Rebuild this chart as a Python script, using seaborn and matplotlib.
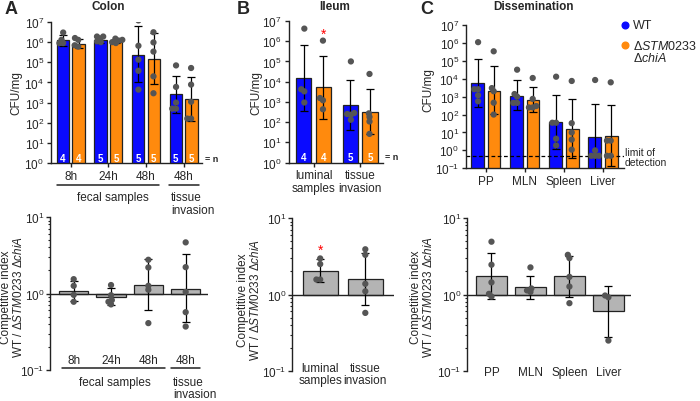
import numpy as np
import pandas as pd
import seaborn as sns
import matplotlib.pyplot as plt
import matplotlib.patheffects as pe
from matplotlib.lines import Line2D
from matplotlib.ticker import LogLocator, NullLocator

# ---- panel A (colon), CFU/mg
colon_groups = ['8h', '24h', '48h', '48h tissue']
colon_ticks = ['8h', '24h', '48h', '48h']
colon_wt = [1.28e6, 1.28e6, 2.4e5, 2.6e3]
colon_mut = [8.1e5, 1.05e6, 1.4e5, 1.5e3]
colon_wt_lo = [6.7e5, 8.7e5, 1.0e4, 3.0e2]
colon_wt_hi = [2.2e6, 2.0e6, 6.3e6, 2.1e4]
colon_mut_lo = [4.9e5, 8.7e5, 8.0e3, 1.26e2]
colon_mut_hi = [1.43e6, 1.43e6, 2.9e6, 1.9e4]
colon_wt_pts = [[3.0e6, 1.3e6, 9e5, 9e5], [1.9e6, 1.9e6, 1.5e6, 1.1e6, 1.0e6],
                [1.2e7, 6.6e5, 1.35e5, 3.8e4, 4.4e3], [7e4, 6e3, 1e3, 5e2, 5e2]]
colon_mut_pts = [[1.6e6, 1.3e6, 7e5, 6e5], [1.5e6, 1.3e6, 1.2e6, 1.0e6, 9e5],
                 [3.1e6, 9.7e5, 3.4e5, 2.0e4, 2.9e3], [5.2e4, 7.8e3, 1.1e3, 1.6e2, 1.6e2]]
colon_n = [4, 5, 5, 5]

# ---- panel B (ileum)
ileum_groups = ['luminal\nsamples', 'tissue\ninvasion']
ileum_wt = [1.45e4, 6.9e2]
ileum_mut = [5.2e3, 3.0e2]
ileum_wt_lo = [3.4e2, 40]
ileum_wt_hi = [6.8e5, 1.15e4]
ileum_mut_lo = [1.5e2, 25]
ileum_mut_hi = [1.9e5, 4.2e3]
ileum_wt_pts = [[4.2e6, 4.2e3, 3.3e3, 9.3e2], [1e5, 2.8e2, 2.5e2, 2.3e2, 1.3e2]]
ileum_mut_pts = [[1.07e6, 1.55e3, 1.2e3, 4.3e2], [2.4e4, 2.7e2, 1.8e2, 1.07e2, 26]]
ileum_n = [4, 5]

# ---- panel C (dissemination)
organ_groups = ['PP', 'MLN', 'Spleen', 'Liver']
organ_wt = [5.5e3, 1.15e3, 37, 5.9]
organ_mut = [2.2e3, 6.5e2, 15, 6.3]
organ_wt_lo = [2.6e2, 1.7e2, 1.2, 0.05]
organ_wt_hi = [1.2e5, 8.1e3, 1.2e3, 3.9e2]
organ_mut_lo = [1.07e2, 1.4e2, 0.38, 0.135]
organ_mut_hi = [5.1e4, 3.5e3, 7.4e2, 3.6e2]
organ_wt_pts = [[1.1e6, 2.6e3, 2.6e3, 1.2e3, 5.5e2], [3.2e4, 1.4e3, 1.0e3, 4.5e2, 4.5e2],
                [1.3e4, 35, 35, 4.5, 1.9], [8.5e3, 1.0, 0.5, 0.5, 0.5]]
organ_mut_pts = [[3.4e5, 3.0e3, 2.0e3, 4.6e2, 1.0e2], [1.1e4, 7.5e2, 3e2, 2.5e2, 2.5e2],
                 [7.5e3, 33, 10, 4, 1.1], [6.3e3, 3.5, 3.5, 0.5, 0.5]]
detection_limit = 0.5

# ---- competitive index (bottom row)
ci_colon = [1.09, 0.91, 1.29, 1.16]
ci_colon_lo = [0.80, 0.71, 0.60, 0.43]
ci_colon_hi = [1.47, 1.17, 2.8, 3.24]
ci_colon_pts = [[1.54, 1.26, 0.96, 0.78], [1.29, 0.95, 0.82, 0.78, 0.72],
                [2.76, 2.19, 1.26, 1.12, 0.41], [4.66, 2.21, 1.05, 0.57, 0.37]]
ci_ileum = [2.04, 1.59]
ci_ileum_lo = [1.45, 0.74]
ci_ileum_hi = [2.87, 3.5]
ci_ileum_pts = [[2.96, 2.5, 1.57, 1.57], [3.9, 3.3, 1.38, 1.1, 0.575]]
ci_organ = [1.74, 1.24, 1.72, 0.60]
ci_organ_lo = [0.88, 0.87, 0.94, 0.28]
ci_organ_hi = [3.48, 1.76, 3.21, 1.31]
ci_organ_pts = [[4.9, 2.45, 1.44, 1.02, 0.94], [2.26, 1.2, 1.13, 1.08],
                [3.3, 2.99, 1.7, 1.27, 0.77], [0.97, 0.92, 0.25]]

BLUE = '#0a0aff'
ORANGE = '#ff8a0d'
DOT = '#555555'
GREY = '#b4b4b4'
INK = '#222222'
FS = 8.5

sns.set_style('ticks')
plt.rcParams['font.family'] = ['Liberation Sans', 'DejaVu Sans']
plt.rcParams['mathtext.fontset'] = 'custom'
plt.rcParams['mathtext.rm'] = 'Liberation Sans'
plt.rcParams['mathtext.it'] = 'Liberation Sans:italic'
plt.rcParams['axes.edgecolor'] = INK
plt.rcParams['axes.linewidth'] = 1.0

W, H = 700, 402
fig = plt.figure(figsize=(7, 4.02), dpi=100)

# the swarm is laid out with a small marker; a stroke drawn at render time makes the
# dots look bigger so they overlap a little, like the original scatter
SWARM = dict(size=2.6, linewidth=0, zorder=4,
             path_effects=[pe.Stroke(linewidth=1.9, foreground=DOT), pe.Normal()])


def box(l, t, r, b):
    return fig.add_axes([l / W, 1 - b / H, (r - l) / W, (b - t) / H])


def ftext(x, y, s, **kw):
    fig.text(x / W, 1 - y / H, s, **kw)


def long_pts(groups, wt_pts, mut_pts):
    rows = []
    for g, a, b in zip(groups, wt_pts, mut_pts):
        rows += [(g, 'WT', v) for v in a]
        rows += [(g, 'mut', v) for v in b]
    return pd.DataFrame(rows, columns=['group', 'strain', 'cfu'])


def cfu_panel(ax, groups, wt, mut, wt_lo, wt_hi, mut_lo, mut_hi, wt_pts, mut_pts, ylim, xlim):
    n = len(groups)
    bars = pd.DataFrame({'group': groups * 2, 'strain': ['WT'] * n + ['mut'] * n,
                         'cfu': wt + mut})
    sns.barplot(data=bars, x='group', y='cfu', hue='strain', order=groups,
                hue_order=['WT', 'mut'], palette=[BLUE, ORANGE], saturation=1,
                width=0.84, gap=0.22, errorbar=None, edgecolor=INK, linewidth=0.9,
                legend=False, ax=ax)
    x = np.arange(n)
    for off, v, lo, hi in ((-0.21, wt, wt_lo, wt_hi), (0.21, mut, mut_lo, mut_hi)):
        v = np.array(v)
        ax.errorbar(x + off, v, yerr=[v - np.array(lo), np.array(hi) - v], fmt='none',
                    ecolor='black', elinewidth=0.9, capsize=2.6, capthick=0.9, zorder=3)
    sns.swarmplot(data=long_pts(groups, wt_pts, mut_pts), x='group', y='cfu', hue='strain',
                  order=groups, hue_order=['WT', 'mut'], palette=[DOT, DOT], dodge=True,
                  legend=False, ax=ax, **SWARM)
    ax.set_yscale('log')
    ax.set_ylim(*ylim)
    ax.set_xlim(*xlim)
    ax.yaxis.set_major_locator(LogLocator(base=10, numticks=20))
    ax.yaxis.set_minor_locator(NullLocator())
    ax.set_xlabel('')
    ax.set_ylabel('')
    ax.tick_params(length=3, width=1, labelsize=FS, pad=2, color=INK)
    sns.despine(ax=ax)


def n_labels(ax, counts, y):
    tr = ax.get_xaxis_transform()
    for i, c in enumerate(counts):
        for off in (-0.21, 0.21):
            ax.text(i + off, y, str(c), transform=tr, ha='center', va='center',
                    color='white', fontsize=7, fontweight='bold', zorder=6)
    ax.text(1.02, y, '= n', transform=ax.transAxes, ha='left', va='center',
            fontsize=6.5, fontweight='bold')


def ci_panel(ax, groups, ci, lo, hi, pts, xlim):
    df = pd.DataFrame({'group': groups, 'height': np.array(ci) - 1})
    sns.barplot(data=df, x='group', y='height', order=groups, bottom=1, color=GREY,
                saturation=1, width=0.78, errorbar=None, edgecolor=INK, linewidth=0.9, ax=ax)
    ci = np.array(ci)
    ax.errorbar(np.arange(len(groups)), ci, yerr=[ci - np.array(lo), np.array(hi) - ci],
                fmt='none', ecolor='black', elinewidth=0.9, capsize=2.8, capthick=0.9, zorder=3)
    rows = [(g, v) for g, vals in zip(groups, pts) for v in vals]
    sns.swarmplot(data=pd.DataFrame(rows, columns=['group', 'ci']), x='group', y='ci',
                  order=groups, color=DOT, ax=ax, **SWARM)
    ax.set_yscale('log')
    ax.set_ylim(0.1, 10)
    ax.set_xlim(*xlim)
    ax.axhline(1, color=INK, lw=1.0, zorder=2)
    ax.yaxis.set_major_locator(LogLocator(base=10, numticks=20))
    ax.yaxis.set_minor_locator(LogLocator(base=10, subs=np.arange(2, 10), numticks=20))
    ax.set_xticks([])
    ax.set_xlabel('')
    ax.set_ylabel('')
    ax.tick_params(axis='y', which='major', length=3, width=1, labelsize=FS, pad=1, color=INK)
    ax.tick_params(axis='y', which='minor', length=1.8, width=0.8, color=INK)
    sns.despine(ax=ax, bottom=True)


def underline(ax, x0, x1, y):
    ax.plot([x0, x1], [y, y], transform=ax.get_xaxis_transform(), color=INK, lw=1.1,
            clip_on=False)


# ---------------- top row
axA = box(51, 23, 202, 164)
cfu_panel(axA, colon_groups, colon_wt, colon_mut, colon_wt_lo, colon_wt_hi,
          colon_mut_lo, colon_mut_hi, colon_wt_pts, colon_mut_pts, (1, 1e7), (-0.524, 3.49))
axA.set_xticks(range(4), colon_ticks)
n_labels(axA, colon_n, 0.035)
underline(axA, -0.37, 2.36, -0.156)
underline(axA, 2.61, 3.42, -0.156)
trA = axA.get_xaxis_transform()
axA.text(1.13, -0.241, 'fecal samples', transform=trA, ha='center', va='center', fontsize=FS)
axA.text(2.67, -0.20, 'tissue\ninvasion', transform=trA, ha='left', va='top', fontsize=FS,
         linespacing=1.05)

axB = box(288.5, 22, 383, 163.5)
cfu_panel(axB, ileum_groups, ileum_wt, ileum_mut, ileum_wt_lo, ileum_wt_hi,
          ileum_mut_lo, ileum_mut_hi, ileum_wt_pts, ileum_mut_pts, (1, 1e7), (-0.54, 1.49))
axB.set_xticks(range(2), ileum_groups)
for lab in axB.get_xticklabels():
    lab.set_linespacing(1.1)
n_labels(axB, ileum_n, 0.039)
axB.text(0.21, 2.3e6, '*', color='red', ha='center', va='center', fontsize=10)

axC = box(466, 26, 624, 169.3)
cfu_panel(axC, organ_groups, organ_wt, organ_mut, organ_wt_lo, organ_wt_hi,
          organ_mut_lo, organ_mut_hi, organ_wt_pts, organ_mut_pts, (0.1, 1e7), (-0.51, 3.54))
axC.set_xticks(range(4), organ_groups)
axC.axhline(detection_limit, color='black', lw=0.9, ls=(0, (3, 2)), zorder=2)

# ---------------- bottom row
axD = box(50, 218, 207.7, 371)
ci_panel(axD, colon_groups, ci_colon, ci_colon_lo, ci_colon_hi, ci_colon_pts, (-0.635, 3.59))
trD = axD.get_xaxis_transform()
for i, t in enumerate(colon_ticks):
    axD.text(i, 0.065, t, transform=trD, ha='center', va='center', fontsize=FS)
underline(axD, -0.32, 2.45, 0.011)
underline(axD, 2.61, 3.39, 0.011)
axD.text(1.09, -0.078, 'fecal samples', transform=trD, ha='center', va='center', fontsize=FS)
axD.text(2.66, -0.039, 'tissue\ninvasion', transform=trD, ha='left', va='top', fontsize=FS,
         linespacing=1.05, clip_on=False)

axE = box(292, 219, 394, 372)
ci_panel(axE, ileum_groups, ci_ileum, ci_ileum_lo, ci_ileum_hi, ci_ileum_pts, (-0.625, 1.636))
trE = axE.get_xaxis_transform()
for i, t in enumerate(ileum_groups):
    axE.text(i, 0.06, t, transform=trE, ha='center', va='top', fontsize=FS, linespacing=1.05)
axE.text(0, 3.8, '*', color='red', ha='center', va='center', fontsize=10)

axF = box(467, 219, 631, 372)
ci_panel(axF, organ_groups, ci_organ, ci_organ_lo, ci_organ_hi, ci_organ_pts, (-0.628, 3.58))
trF = axF.get_xaxis_transform()
for i, t in enumerate(organ_groups):
    axF.text(i, -0.007, t, transform=trF, ha='center', va='center', fontsize=FS)

# ---------------- labels, titles, legend
for x, y, s in ((11, 10, 'A'), (243, 10, 'B'), (427, 10, 'C')):
    ftext(x, y, s, ha='center', va='center', fontsize=13, fontweight='bold')
for x, s in ((108, 'Colon'), (335, 'Ileum'), (534, 'Dissemination')):
    ftext(x, 7, s, ha='center', va='center', fontsize=FS, fontweight='bold')
for x, y in ((16, 93), (256, 93), (428, 90)):
    ftext(x, y, 'CFU/mg', ha='center', va='center', rotation=90, fontsize=FS)
ci_label = 'Competitive index\nWT / Δ$\\mathit{STM0233}$ Δ$\\mathit{chiA}$'
for x, y in ((12.5, 297), (249.5, 300), (422, 297)):
    ftext(x, y, ci_label, ha='center', va='center', rotation=90, fontsize=FS,
          linespacing=1.0)

for y, c in ((26, BLUE), (46, ORANGE)):
    fig.add_artist(Line2D([625 / W], [1 - y / H], transform=fig.transFigure, marker='o',
                          ls='', ms=4.8, color=c))
ftext(633, 26, 'WT', ha='left', va='center', fontsize=9)
ftext(633, 46, 'Δ$\\mathit{STM0233}$', ha='left', va='center', fontsize=9)
ftext(633, 58.5, 'Δ$\\mathit{chiA}$', ha='left', va='center', fontsize=9)
ftext(625, 152.5, 'limit of', ha='left', va='center', fontsize=7.5)
ftext(625, 163, 'detection', ha='left', va='center', fontsize=7.5)

fig.savefig('out.png', dpi=100)
